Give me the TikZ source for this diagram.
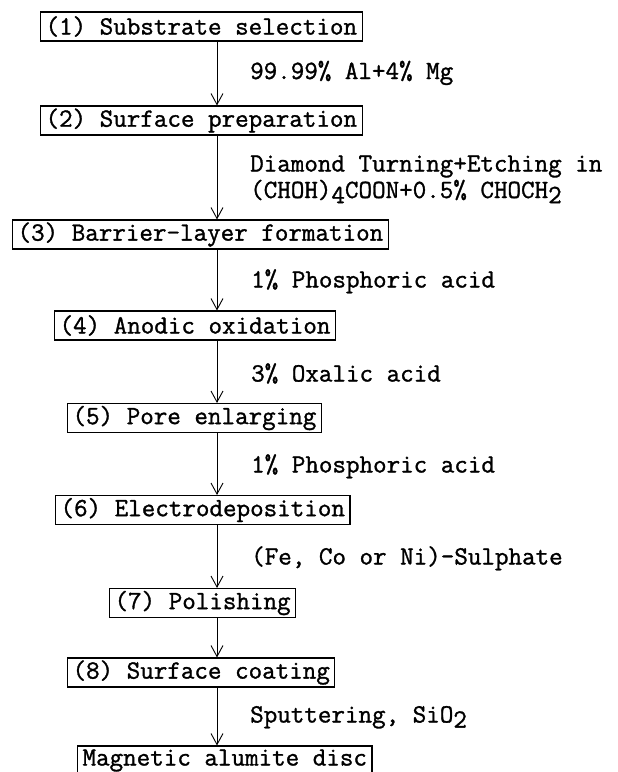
\documentclass[tikz,border=0pt]{standalone}
\usepackage{fontspec}
\newfontfamily\monofont{Latin Modern Mono}[FakeBold=1.2]
\usetikzlibrary{arrows.meta}
\newcommand\lowsub[1]{\raisebox{-0.45ex}{#1}}
\begin{document}
\begin{tikzpicture}[x=1pt,y=-1pt,
  txt/.style={font=\monofont\fontsize{26.3}{26}\selectfont},
  stepbox/.style={txt, draw, line width=1.1pt, inner xsep=5pt, inner ysep=0pt, minimum height=29pt, anchor=west},
  lbl/.style={txt, anchor=base west, inner sep=0pt, text height=13pt, text depth=4pt},
  flow/.style={-{Straight Barb[length=11pt,width=12pt]}, line width=0.9pt}]
\useasboundingbox (0,0) rectangle (618,772);
\fill[white] (0,0) rectangle (618,772);
\coordinate (ax) at (217,0);

\node[stepbox] (b1) at (40,26.5) {(1) Substrate selection};
\node[stepbox] (b2) at (40,120.5) {(2) Surface preparation};
\node[stepbox] (b3) at (12,234.5) {(3) Barrier-layer formation};
\node[stepbox] (b4) at (54,325.5) {(4) Anodic oxidation};
\node[stepbox] (b5) at (67,418) {(5) Pore enlarging};
\node[stepbox] (b6) at (55,510) {(6) Electrodeposition};
\node[stepbox] (b7) at (109,603) {(7) Polishing};
\node[stepbox] (b8) at (67,672.5) {(8) Surface coating};
\node[stepbox] (b9) at (77,760.5) {Magnetic alumite disc};

\node[lbl] (l1) at (250,79) {99.99\% Al+4\% Mg};
\node[lbl] (l2a) at (250,171.5) {Diamond Turning+Etching in};
\node[lbl] (l2b) at (250,198) {(CHOH)\lowsub{4}COON+0.5\% CHOCH\lowsub{2}};
\node[lbl] (l3) at (251,287.5) {1\% Phosphoric acid};
\node[lbl] (l4) at (251,381.5) {3\% Oxalic acid};
\node[lbl] (l5) at (251,472.5) {1\% Phosphoric acid};
\node[lbl] (l6) at (251,564.5) {(Fe, Co or Ni)-Sulphate};
\node[lbl] (l8) at (250,722.5) {Sputtering, SiO\lowsub{2}};

\draw[flow] (b1.south -| ax) -- (b2.north -| ax);
\draw[flow] (b2.south -| ax) -- (b3.north -| ax);
\draw[flow] (b3.south -| ax) -- (b4.north -| ax);
\draw[flow] (b4.south -| ax) -- (b5.north -| ax);
\draw[flow] (b5.south -| ax) -- (b6.north -| ax);
\draw[flow] (b6.south -| ax) -- (b7.north -| ax);
\draw[flow] (b7.south -| ax) -- (b8.north -| ax);
\draw[flow] (b8.south -| ax) -- (b9.north -| ax);
\end{tikzpicture}
\end{document}
